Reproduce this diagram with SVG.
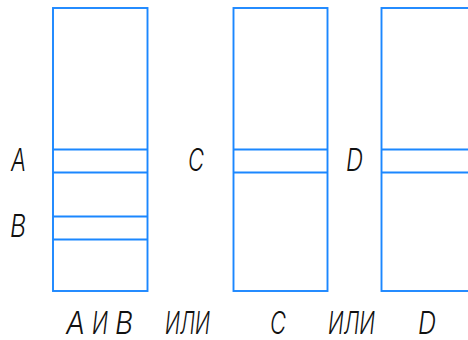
<svg xmlns="http://www.w3.org/2000/svg" width="468" height="340" viewBox="0 0 468 340">
<style>
.box{fill:none;stroke:#1b87ff;stroke-width:1.9}
.ln{stroke:#1b87ff;stroke-width:1.9}
.t{font-family:"Inter","Roboto","DejaVu Sans",sans-serif;font-style:italic;font-weight:300;font-size:31px;fill:#111}
</style>
<rect width="468" height="340" fill="#fff"/>
<g id="column-ab">
<rect class="box" x="53" y="8" width="94.5" height="283"/>
<line class="ln" x1="53" y1="149.5" x2="147.5" y2="149.5"/>
<line class="ln" x1="53" y1="172.5" x2="147.5" y2="172.5"/>
<line class="ln" x1="53" y1="216.5" x2="147.5" y2="216.5"/>
<line class="ln" x1="53" y1="239.5" x2="147.5" y2="239.5"/>
</g>
<g id="column-c">
<rect class="box" x="233.5" y="8" width="94" height="283"/>
<line class="ln" x1="233.5" y1="149.5" x2="327.5" y2="149.5"/>
<line class="ln" x1="233.5" y1="172.5" x2="327.5" y2="172.5"/>
</g>
<g id="column-d">
<rect class="box" x="381.5" y="8" width="94" height="283"/>
<line class="ln" x1="381.5" y1="149.5" x2="475.5" y2="149.5"/>
<line class="ln" x1="381.5" y1="172.5" x2="475.5" y2="172.5"/>
</g>
<g id="labels">
<text class="t" x="11" y="171" textLength="15" lengthAdjust="spacingAndGlyphs">A</text>
<text class="t" x="10" y="237" textLength="16" lengthAdjust="spacingAndGlyphs">B</text>
<text class="t" x="188" y="171" textLength="16" lengthAdjust="spacingAndGlyphs">C</text>
<text class="t" x="346" y="171" textLength="17" lengthAdjust="spacingAndGlyphs">D</text>
<text class="t" x="66" y="334" textLength="19" lengthAdjust="spacingAndGlyphs">A</text>
<text class="t" x="92" y="334" textLength="16" lengthAdjust="spacingAndGlyphs">И</text>
<text class="t" x="115" y="334" textLength="18" lengthAdjust="spacingAndGlyphs">B</text>
<text class="t" x="165" y="334" textLength="45" lengthAdjust="spacingAndGlyphs">ИЛИ</text>
<text class="t" x="270" y="334" textLength="16" lengthAdjust="spacingAndGlyphs">C</text>
<text class="t" x="328" y="334" textLength="47" lengthAdjust="spacingAndGlyphs">ИЛИ</text>
<text class="t" x="418" y="334" textLength="18" lengthAdjust="spacingAndGlyphs">D</text>
</g>
</svg>
